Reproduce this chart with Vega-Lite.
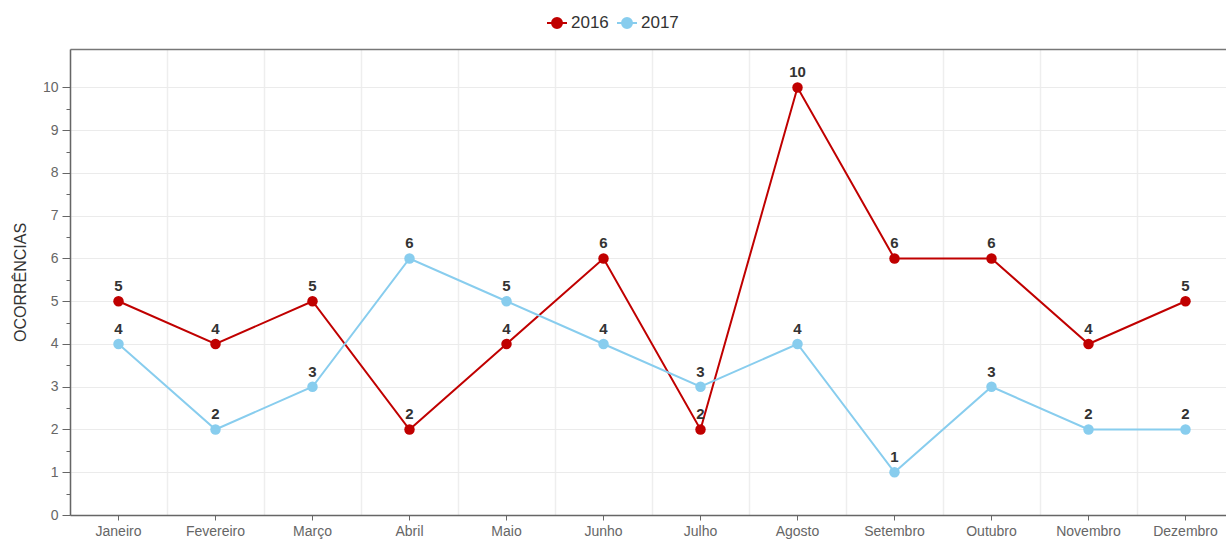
{
  "$schema": "https://vega.github.io/schema/vega-lite/v6.json",
  "width": 1156,
  "height": 466,
  "autosize": {"type": "none"},
  "padding": {"left": 70, "top": 49, "right": 0, "bottom": 28},
  "config": {
    "font": "Liberation Sans",
    "view": {"stroke": null},
    "axis": {"labelFont": "Liberation Sans", "titleFont": "Liberation Sans"}
  },
  "data": {
    "values": [
      {"mes": "Janeiro", "ano": "2016", "valor": 5},
      {"mes": "Fevereiro", "ano": "2016", "valor": 4},
      {"mes": "Março", "ano": "2016", "valor": 5},
      {"mes": "Abril", "ano": "2016", "valor": 2},
      {"mes": "Maio", "ano": "2016", "valor": 4},
      {"mes": "Junho", "ano": "2016", "valor": 6},
      {"mes": "Julho", "ano": "2016", "valor": 2},
      {"mes": "Agosto", "ano": "2016", "valor": 10},
      {"mes": "Setembro", "ano": "2016", "valor": 6},
      {"mes": "Outubro", "ano": "2016", "valor": 6},
      {"mes": "Novembro", "ano": "2016", "valor": 4},
      {"mes": "Dezembro", "ano": "2016", "valor": 5},
      {"mes": "Janeiro", "ano": "2017", "valor": 4},
      {"mes": "Fevereiro", "ano": "2017", "valor": 2},
      {"mes": "Março", "ano": "2017", "valor": 3},
      {"mes": "Abril", "ano": "2017", "valor": 6},
      {"mes": "Maio", "ano": "2017", "valor": 5},
      {"mes": "Junho", "ano": "2017", "valor": 4},
      {"mes": "Julho", "ano": "2017", "valor": 3},
      {"mes": "Agosto", "ano": "2017", "valor": 4},
      {"mes": "Setembro", "ano": "2017", "valor": 1},
      {"mes": "Outubro", "ano": "2017", "valor": 3},
      {"mes": "Novembro", "ano": "2017", "valor": 2},
      {"mes": "Dezembro", "ano": "2017", "valor": 2}
    ]
  },
  "encoding": {
    "y": {
      "field": "valor",
      "type": "quantitative",
      "scale": {"domain": [0, 10.9], "nice": false, "zero": true},
      "axis": {
        "title": "OCORRÊNCIAS",
        "titleFontSize": 16,
        "titleFontWeight": "normal",
        "titleColor": "#333333",
        "titlePadding": 14,
        "values": [0, 0.5, 1, 1.5, 2, 2.5, 3, 3.5, 4, 4.5, 5, 5.5, 6, 6.5, 7, 7.5, 8, 8.5, 9, 9.5, 10],
        "labelExpr": "datum.value % 1 === 0 ? format(datum.value, 'd') : ''",
        "labelFontSize": 14,
        "labelColor": "#666666",
        "labelPadding": 4,
        "tickSize": {"condition": {"test": "datum.value % 1 === 0", "value": 8}, "value": 4},
        "tickColor": "#666666",
        "domainColor": "#666666",
        "domainWidth": 1.5,
        "grid": true,
        "gridColor": "#ebebeb",
        "gridOpacity": {"condition": {"test": "datum.value % 1 === 0", "value": 1}, "value": 0}
      }
    }
  },
  "layer": [
    {
      "mark": {"type": "line", "strokeWidth": 2},
      "encoding": {
        "x": {
          "field": "mes",
          "type": "nominal",
          "sort": null,
          "scale": {"type": "band", "range": [0, 1164], "paddingInner": 0, "paddingOuter": 0},
          "axis": {
            "orient": "top",
            "title": null,
            "labels": false,
            "ticks": false,
            "domain": true,
            "domainColor": "#777777",
            "domainWidth": 1.5,
            "grid": true,
            "bandPosition": 0,
            "gridColor": "#eeeeee",
            "gridWidth": 1.5
          }
        },
        "color": {
          "field": "ano",
          "type": "nominal",
          "scale": {"domain": ["2016", "2017"], "range": ["#c00000", "#88cdee"]},
          "legend": {
            "title": null,
            "orient": "none",
            "direction": "horizontal",
            "legendX": 476,
            "legendY": -37,
            "symbolType": "M-1,0L1,0M-0.5,0A0.5,0.5,0,1,1,0.5,0A0.5,0.5,0,1,1,-0.5,0Z",
            "symbolSize": 400,
            "symbolStrokeWidth": 2,
            "labelFontSize": 17,
            "labelColor": "#333333",
            "labelOffset": 3,
            "columnPadding": 4
          }
        }
      }
    },
    {
      "mark": {"type": "point", "filled": true, "size": 110, "opacity": 1},
      "encoding": {
        "x": {
          "field": "mes",
          "type": "nominal",
          "sort": null,
          "axis": {
            "orient": "bottom",
            "title": null,
            "labelAngle": 0,
            "labelFontSize": 14,
            "labelColor": "#666666",
            "labelPadding": 4,
            "tickSize": 5,
            "tickColor": "#666666",
            "domainColor": "#666666",
            "domainWidth": 1.5,
            "grid": false
          }
        },
        "color": {"field": "ano", "type": "nominal"}
      }
    },
    {
      "mark": {"type": "text", "dy": -15, "fontSize": 15, "fontWeight": "bold", "color": "#333333"},
      "encoding": {
        "x": {"field": "mes", "type": "nominal", "sort": null, "axis": null},
        "text": {"field": "valor", "type": "quantitative"}
      }
    }
  ],
  "resolve": {"axis": {"x": "independent"}}
}
